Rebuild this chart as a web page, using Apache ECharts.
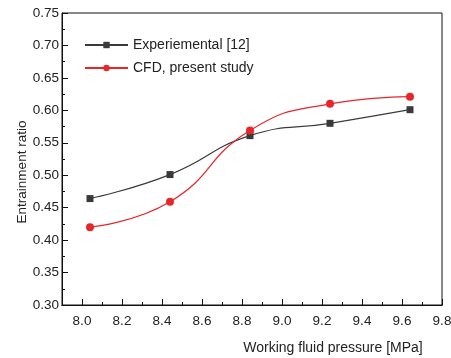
<!DOCTYPE html>
<html>
<head>
<meta charset="utf-8">
<script src="https://cdn.jsdelivr.net/npm/echarts@6/dist/echarts.min.js"></script>
<style>
  html, body { margin: 0; padding: 0; background: #fff; }
  #chart { width: 451px; height: 358px; }
</style>
</head>
<body>
<div id="chart"></div>
<script>
// Working fluid pressure [MPa] at each operating point
const pressure = [8.04, 8.44, 8.84, 9.24, 9.64];
// Entrainment ratio, experimental reference data
const experimental = [0.464, 0.501, 0.561, 0.580, 0.601];
// Entrainment ratio, CFD results
const cfd = [0.420, 0.459, 0.569, 0.610, 0.621];
// Labelled ticks on the pressure axis
const xMajorTicks = [8.0, 8.2, 8.4, 8.6, 8.8, 9.0, 9.2, 9.4, 9.6, 9.8];

const pairs = (xs, ys) => xs.map((x, i) => [x, ys[i]]);
const font = 'Liberation Sans, Arial, sans-serif';

const chart = echarts.init(document.getElementById('chart'), null, { renderer: 'canvas' });

const baseX = {
  type: 'value',
  min: 7.9,
  max: 9.8,
  splitLine: { show: false },
  axisLine: { show: true, lineStyle: { color: '#111', width: 1 } }
};

chart.setOption({
  animation: false,
  backgroundColor: '#fff',
  grid: {
    left: 62, right: 9, top: 13, bottom: 53,
    outerBoundsMode: 'none',
    containLabel: false,
    show: true, borderColor: '#111', borderWidth: 1
  },
  legend: {
    orient: 'vertical',
    left: 84,
    top: 38,
    padding: 0,
    itemWidth: 43,
    itemHeight: 8,
    itemGap: 9,
    textStyle: { fontFamily: font, fontSize: 14, color: '#222' },
    data: ['Experiemental [12]', 'CFD, present study']
  },
  xAxis: [
    // small ticks every 0.1 MPa
    Object.assign({}, baseX, {
      interval: 0.1,
      axisTick: { show: true, inside: true, length: 3, lineStyle: { color: '#111' } },
      axisLabel: { show: false }
    }),
    // labelled ticks every 0.2 MPa
    Object.assign({}, baseX, {
      position: 'bottom',
      name: 'Working fluid pressure [MPa]',
      nameLocation: 'middle',
      nameGap: 36,
      nameMoveOverlap: false,
      nameTextStyle: { fontFamily: font, fontSize: 14, color: '#222', padding: [0, 0, 0, 162] },
      axisTick: { show: true, inside: true, length: 6, customValues: xMajorTicks, lineStyle: { color: '#111' } },
      axisLabel: {
        customValues: xMajorTicks,
        fontFamily: font, fontSize: 13.5, color: '#222', margin: 9,
        formatter: v => v.toFixed(1)
      }
    })
  ],
  yAxis: {
    type: 'value',
    min: 0.30,
    max: 0.75,
    interval: 0.05,
    name: 'Entrainment ratio',
    nameLocation: 'middle',
    nameGap: 33,
    nameMoveOverlap: false,
    nameTextStyle: { fontFamily: font, fontSize: 13.5, color: '#222', padding: [0, 26, 0, 0] },
    splitLine: { show: false },
    axisLine: { show: true, lineStyle: { color: '#111', width: 1 } },
    axisTick: { show: true, inside: true, length: 6, lineStyle: { color: '#111' } },
    minorTick: { show: true, splitNumber: 2, length: 3, lineStyle: { color: '#111' } },
    axisLabel: {
      fontFamily: font, fontSize: 13.5, color: '#222', margin: 3,
      formatter: v => v.toFixed(2)
    }
  },
  series: [
    {
      name: 'Experiemental [12]',
      type: 'line',
      xAxisIndex: 1,
      data: pairs(pressure, experimental),
      smooth: 0.5,
      symbol: 'rect',
      symbolSize: 7,
      itemStyle: { color: '#3a3a3a' },
      lineStyle: { color: '#3a3a3a', width: 1.2 }
    },
    {
      name: 'CFD, present study',
      type: 'line',
      xAxisIndex: 1,
      data: pairs(pressure, cfd),
      smooth: 0.5,
      symbol: 'circle',
      symbolSize: 8,
      itemStyle: { color: '#e8262a' },
      lineStyle: { color: '#e8262a', width: 1.2 }
    }
  ]
});
</script>
</body>
</html>
